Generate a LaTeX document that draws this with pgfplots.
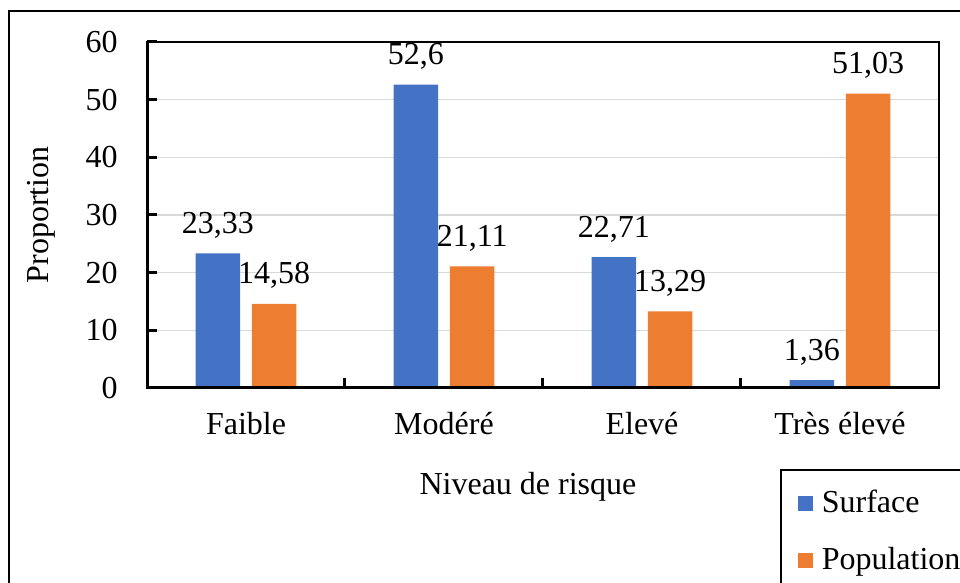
\documentclass[border=0pt]{standalone}
\usepackage{pgfplots}
\pgfplotsset{compat=1.18}
\usepackage{fontspec}
\setmainfont{Liberation Serif}
\definecolor{cblue}{HTML}{4472C4}
\definecolor{corange}{HTML}{ED7D31}
\definecolor{gridc}{HTML}{D9D9D9}
\newcommand{\ff}{\fontsize{16pt}{19pt}\selectfont}
\begin{document}
\ff
\begin{tikzpicture}
\useasboundingbox (0,0) rectangle (480pt,291.5pt);
\clip (0,0) rectangle (480pt,291.5pt);
\draw[line width=1pt] (4.5pt,286pt) rectangle (700pt,-100pt);
\begin{axis}[
  at={(73.5pt,97.5pt)}, anchor=south west,
  scale only axis, width=396pt, height=173pt,
  xmin=-0.5, xmax=3.5, ymin=0, ymax=60,
  xtick={0.5,1.5,2.5},
  xticklabels={},
  extra x ticks={0,1,2,3},
  extra x tick labels={Faible,Modéré,Elevé,Très élevé},
  extra x tick style={major tick length=0pt, grid=none},
  ytick={0,10,20,30,40,50,60},
  tick align=inside,
  xtick pos=bottom, ytick pos=left,
  major tick length=5pt,
  every tick/.style={black, line width=1.5pt},
  ymajorgrids, grid style={gridc, line width=0.75pt},
  axis line style={line width=1pt},
  /pgf/number format/assume math mode=true,
  /pgf/number format/.cd, use comma, fixed, precision=2, /pgfplots/.cd,
  xticklabel style={anchor=base, yshift=-23.5pt, font=\ff},
  yticklabel style={anchor=east, inner sep=0pt, xshift=-14.5pt, font=\ff},
  xlabel={Niveau de risque},
  xlabel style={at={(axis description cs:0.481,0)}, anchor=base, yshift=-53.5pt, font=\ff},
  ylabel={Proportion},
  ylabel style={at={(axis description cs:0,0.5)}, anchor=center, yshift=53pt, font=\ff},
  legend style={at={(0.799,-0.234)}, anchor=north west, draw=black, line width=1pt,
    inner xsep=8.5pt, inner ysep=8pt, row sep=11pt, font=\ff},
  legend cell align=left,
  legend image code/.code={\fill[#1] (0pt,-3.75pt) rectangle (7.5pt,3.75pt); \path (10pt,0pt);},
  nodes near coords,
  every node near coord/.append style={anchor=base, yshift=10pt, inner sep=0pt, font=\ff, black},
]
\addplot[ybar, bar width=22.25pt, bar shift=-14.1pt, fill=cblue, draw=none,
  every node near coord/.append style={xshift=-14.1pt}] coordinates {(0,23.33) (1,52.6) (2,22.71) (3,1.36)};
\addlegendentry{Surface}
\addplot[ybar, bar width=22.25pt, bar shift=14.1pt, fill=corange, draw=none,
  every node near coord/.append style={xshift=14.1pt}] coordinates {(0,14.58) (1,21.11) (2,13.29) (3,51.03)};
\addlegendentry{Population}
\draw[line width=1.5pt] (rel axis cs:0,1) -- (rel axis cs:0,0) -- (rel axis cs:1,0);
\end{axis}
\end{tikzpicture}
\end{document}
